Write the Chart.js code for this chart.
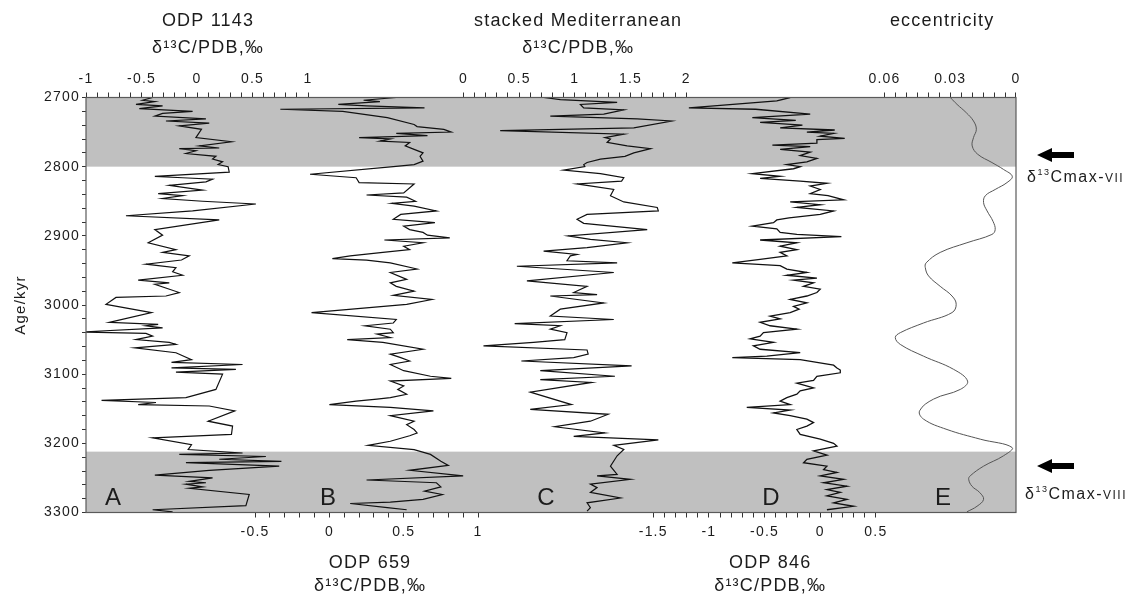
<!DOCTYPE html>
<html>
<head>
<meta charset="utf-8">
<title>δ13C records 2700–3300 kyr</title>
<script src="https://cdn.jsdelivr.net/npm/chart.js@4.4.1/dist/chart.umd.min.js"></script>
<style>
  html, body { margin: 0; padding: 0; background: #fff; }
  #wrap { width: 1136px; height: 596px; }
</style>
</head>
<body>
<div id="wrap"><canvas id="c" width="1136" height="596"></canvas></div>
<script>
// ── Data (ages in kyr) ─────────────────────────────────────────────────────
// A: ODP 1143 δ13C
const agesA = [2700,2704,2706,2710,2712,2716,2720,2723,2727,2731,2734,2737,2741,2746,2758,2764,2770,2773,2774,2777,
  2781,2785,2789,2793,2797,2800,2808,2814,2816,2818,2822,2827,2834,2839,2842,2846,2850,2854,2864,2871,
  2877,2891,2899,2910,2920,2924,2929,2935,2941,2946,2952,2957,2964,2968,2970,2982,2987,2989,2999,3011,
  3025,3028,3030,3033,3039,3041,3045,3050,3054,3057,3062,3069,3079,3083,3086,3091,3093,3097,3100,3122,
  3134,3138,3141,3144,3146,3153,3168,3175,3187,3192,3202,3209,3214,3216,3219,3223,3226,3228,3233,3239,
  3246,3250,3255,3257,3259,3263,3265,3274,3290,3296,3299];
const valsA = [-0.40,-0.49,-0.38,-0.55,-0.31,-0.52,-0.04,-0.31,-0.38,0.08,-0.28,0.11,-0.16,0.04,-0.01,0.31,0.02,0.20,-0.16,-0.01,
  -0.10,0.17,0.14,0.23,0.19,0.28,0.29,-0.38,-0.13,0.14,0.08,-0.25,0.05,-0.35,-0.13,-0.31,0.05,0.53,-0.04,-0.64,
  0.20,-0.38,-0.31,-0.44,-0.19,-0.31,-0.07,-0.14,-0.46,-0.19,-0.22,-0.13,-0.53,-0.25,-0.38,-0.16,-0.28,-0.73,-0.82,-0.41,
  -0.79,-0.35,-0.46,-0.31,-1.04,-0.46,-0.40,-0.55,-0.25,-0.19,-0.56,-0.19,-0.05,-0.23,0.41,-0.23,0.35,-0.19,0.23,0.17,
  -0.10,-0.86,-0.37,-0.53,0.11,0.34,0.10,0.32,0.31,-0.40,-0.05,-0.08,0.41,-0.16,0.62,0.20,0.76,-0.10,0.74,0.11,
  -0.38,0.14,-0.07,0.08,-0.10,0.05,-0.07,0.47,0.44,-0.40,-0.22];

// B: ODP 659 δ13C
const agesB = [2700,2704,2706,2710,2712,2715,2717,2720,2729,2739,2742,2746,2750,2752,2755,2758,2760,2763,2765,2770,
  2775,2780,2785,2792,2797,2800,2811,2816,2823,2825,2838,2841,2844,2850,2853,2857,2864,2869,2876,2881,
  2886,2891,2895,2899,2903,2906,2910,2915,2920,2924,2929,2933,2935,2939,2948,2953,2963,2968,2973,2980,
  2986,2992,2999,3011,3021,3026,3030,3035,3040,3042,3047,3050,3054,3064,3071,3076,3081,3086,3095,3103,
  3106,3110,3117,3122,3129,3134,3136,3139,3144,3148,3153,3160,3168,3173,3180,3185,3189,3197,3203,3209,
  3216,3226,3232,3239,3247,3253,3257,3263,3269,3274,3281,3285,3287,3293,3296];
const valsB = [0.45,0.23,0.34,0.06,0.25,0.64,-0.33,0.09,0.39,0.57,0.59,0.77,0.82,0.45,0.66,0.20,0.41,0.34,0.54,0.51,
  0.57,0.63,0.61,0.63,0.57,0.43,-0.13,0.18,0.20,0.57,0.50,0.25,0.52,0.58,0.42,0.57,0.72,0.48,0.43,0.71,
  0.50,0.54,0.63,0.66,0.81,0.37,0.63,0.50,0.54,0.36,0.14,0.02,0.25,0.41,0.59,0.41,0.52,0.41,0.45,0.57,
  0.43,0.69,0.52,-0.12,0.45,0.43,0.24,0.41,0.43,0.32,0.41,0.12,0.36,0.63,0.41,0.48,0.54,0.41,0.50,0.68,
  0.82,0.41,0.50,0.46,0.52,0.41,0.32,0.18,0.00,0.41,0.70,0.41,0.57,0.52,0.57,0.59,0.54,0.41,0.26,0.57,
  0.68,0.75,0.80,0.54,0.90,0.25,0.72,0.75,0.64,0.76,0.63,0.41,0.14,0.39,0.52];

// C: stacked Mediterranean δ13C
const agesC = [2700,2703,2707,2710,2715,2718,2724,2727,2731,2734,2744,2748,2753,2758,2760,2765,2770,2774,2780,2785,
  2789,2794,2797,2800,2805,2810,2816,2821,2825,2833,2842,2851,2859,2864,2869,2876,2882,2891,2900,2905,
  2910,2917,2922,2927,2929,2936,2939,2944,2953,2965,2973,2982,2985,2987,2997,3006,3016,3021,3027,3030,
  3035,3040,3050,3054,3059,3065,3071,3076,3081,3088,3095,3103,3108,3112,3126,3144,3151,3158,3168,3176,
  3185,3190,3195,3203,3209,3218,3233,3245,3247,3252,3259,3264,3271,3279,3286,3293,3298];
const valsC = [0.72,0.87,1.38,1.05,1.08,1.44,1.26,0.78,1.56,1.87,1.53,0.33,1.44,1.27,1.32,1.29,1.47,1.68,1.53,1.45,
  1.23,1.11,1.08,1.09,0.90,1.23,1.44,1.42,1.02,1.35,1.32,1.44,1.74,1.75,1.11,1.02,1.08,1.65,0.94,1.14,
  1.47,1.11,0.72,1.02,0.96,0.93,1.38,0.48,1.35,0.57,1.11,0.99,1.20,0.78,1.26,0.87,0.78,1.35,0.46,0.87,
  0.78,0.93,0.91,0.63,0.18,1.11,1.12,0.99,0.52,1.51,0.69,1.36,0.69,1.15,0.60,0.97,0.60,1.30,1.14,0.82,
  1.27,0.99,1.75,1.35,1.44,1.38,1.32,1.38,1.20,1.50,1.14,1.20,1.14,1.41,1.11,1.14,1.11];

// D: ODP 846 δ13C
const agesD = [2700,2705,2715,2717,2724,2729,2733,2736,2740,2744,2747,2750,2752,2756,2759,2761,2766,2769,2771,2775,
  2779,2784,2788,2793,2797,2800,2803,2810,2814,2817,2821,2824,2828,2833,2839,2842,2848,2851,2855,2859,
  2864,2869,2874,2877,2881,2886,2890,2895,2898,2901,2906,2910,2915,2920,2924,2929,2934,2939,2943,2948,
  2953,2957,2961,2964,2968,2973,2977,2982,2987,2992,2997,3002,3006,3011,3016,3020,3025,3030,3035,3040,
  3045,3049,3054,3059,3064,3069,3074,3076,3079,3083,3087,3091,3094,3098,3103,3109,3113,3120,3124,3129,
  3134,3139,3144,3148,3152,3156,3160,3165,3170,3175,3180,3187,3194,3200,3204,3211,3217,3223,3228,3233,
  3238,3242,3247,3252,3257,3262,3267,3271,3276,3281,3286,3291,3296];
const valsD = [-0.27,-0.39,-1.18,-0.58,-0.09,-0.61,-0.22,-0.54,-0.16,-0.36,0.13,-0.12,0.12,0.00,0.22,-0.03,-0.03,-0.43,-0.09,-0.36,
  -0.09,-0.18,-0.03,-0.12,-0.30,-0.18,-0.24,-0.61,-0.36,-0.54,-0.18,0.06,-0.09,0.00,-0.09,0.07,0.21,-0.27,0.00,-0.21,
  0.12,0.00,-0.28,-0.39,-0.42,-0.61,-0.39,-0.36,-0.21,0.19,-0.54,-0.21,-0.36,-0.21,-0.36,-0.30,-0.54,-0.79,-0.36,-0.30,
  -0.12,-0.30,-0.03,-0.24,-0.06,-0.15,0.00,-0.03,-0.12,-0.27,-0.12,-0.24,-0.19,-0.27,-0.45,-0.36,-0.54,-0.45,-0.21,-0.51,
  -0.54,-0.63,-0.42,-0.60,-0.54,-0.18,-0.48,-0.79,-0.18,-0.03,0.12,0.15,0.18,0.18,-0.03,-0.06,-0.21,-0.06,-0.18,-0.21,
  -0.30,-0.36,-0.27,-0.66,-0.27,-0.42,-0.27,-0.12,-0.06,-0.12,-0.21,-0.18,0.00,0.12,0.15,-0.06,0.06,-0.12,-0.15,0.06,
  0.03,0.15,0.00,0.21,0.03,0.24,0.06,0.18,0.06,0.24,0.12,0.30,0.06];

// E: eccentricity
const agesE = [2700,2710,2722,2734,2746,2758,2770,2782,2794,2804,2814,2823,2833,2842,2852,2864,2879,2891,2898,2910,
  2924,2939,2946,2958,2973,2987,2999,3011,3026,3040,3047,3057,3074,3093,3110,3122,3136,3153,3165,3180,
  3194,3206,3218,3233,3247,3252,3262,3271,3281,3291,3299];
const valsE = [0.0300,0.0269,0.0227,0.0194,0.0181,0.0194,0.0200,0.0175,0.0110,0.0057,0.0017,0.0041,0.0095,0.0140,0.0148,0.0132,0.0105,0.0095,0.0110,0.0224,
  0.0346,0.0410,0.0414,0.0399,0.0346,0.0292,0.0273,0.0292,0.0422,0.0528,0.0551,0.0528,0.0422,0.0285,0.0221,0.0254,0.0376,0.0440,0.0422,0.0315,
  0.0163,0.0018,0.0057,0.0148,0.0209,0.0216,0.0201,0.0166,0.0148,0.0178,0.0224];

// shaded intervals (kyr)
const bands = [[2700, 2800], [3212, 3300]];

// tick labels per axis
const labelsA = [-1, -0.5, 0, 0.5, 1];
const labelsB = [-0.5, 0, 0.5, 1];
const labelsC = [0, 0.5, 1, 1.5, 2];
const labelsD = [-1.5, -1, -0.5, 0, 0.5];
const labelsE = [0.06, 0.03, 0];
const labelsAge = [2700, 2800, 2900, 3000, 3100, 3200, 3300];

// ── Look ──────────────────────────────────────────────────────────────────────
const FONT = '"Liberation Sans", Arial, Helvetica, sans-serif';
const TXT = '#1c1c1c';
const TOP_H = 97.5;    // height of the top axis strip
const BOT_H = 83.5;    // height of the bottom axis strip
Chart.defaults.font.family = FONT;
Chart.defaults.color = TXT;

// minor tick marks between two values
function marks(from, to, step) {
  const out = [];
  const n = Math.round((to - from) / step);
  for (let i = 0; i <= n; i++) out.push(Math.round((from + i * step) * 1e6) / 1e6);
  return out;
}

function labelFor(list) {
  return (v) => {
    const hit = list.find(l => Math.abs(l - v) < 1e-7);
    return hit === undefined ? '' : String(hit);
  };
}

// one visible x axis segment (top or bottom strip)
function xAxis(position, weight, min, max, tickFrom, tickTo, step, labels, title, reverse) {
  const top = position === 'top';
  return {
    type: 'linear', axis: 'x', position, stack: position, stackWeight: weight,
    min, max, reverse: !!reverse,
    afterBuildTicks: ax => { ax.ticks = marks(tickFrom, tickTo, step).map(v => ({ value: v })); },
    afterFit: ax => { ax.height = top ? TOP_H : BOT_H; },
    grid: { drawOnChartArea: false, tickLength: 5, color: '#333', lineWidth: 1 },
    border: { display: false },
    ticks: { autoSkip: false, maxRotation: 0, padding: top ? 5 : 6, font: { size: 14 }, color: TXT,
             callback: labelFor(labels) },
    title: { display: true, text: title, color: TXT,
             font: { size: 18, lineHeight: top ? 1.5 : 1.28 },
             padding: top ? { top: 8, bottom: 0 } : { top: 0, bottom: -2 } }
  };
}

// empty filler segment in a strip
function spacer(position, weight) {
  return {
    type: 'linear', axis: 'x', position, stack: position, stackWeight: weight, min: 0, max: 1,
    afterFit: ax => { ax.height = position === 'top' ? TOP_H : BOT_H; },
    grid: { display: false }, border: { display: false }, ticks: { display: false }
  };
}

const TITLE_13C = 'δ¹³C/PDB,‰';

// ── Plugins ─────────────────────────────────────────────────────────────────
const spacing = {
  id: 'spacing',
  beforeLayout: chart => { chart.ctx.letterSpacing = '1.2px'; },
  beforeDraw: chart => { chart.ctx.letterSpacing = '1.2px'; }
};

const shading = {
  id: 'shading',
  beforeDatasetsDraw(chart) {
    const { ctx, chartArea: a, scales: { y } } = chart;
    ctx.save();
    ctx.fillStyle = '#c0c0c0';
    bands.forEach(([a0, a1]) => {
      const p0 = y.getPixelForValue(a0), p1 = y.getPixelForValue(a1);
      ctx.fillRect(a.left, Math.min(p0, p1), a.right - a.left, Math.abs(p1 - p0));
    });
    ctx.restore();
  }
};

function richText(ctx, x, y, parts) {
  let cx = x;
  parts.forEach(([t, size, dy]) => {
    ctx.font = size + 'px ' + FONT;
    ctx.fillText(t, cx, y + dy);
    cx += ctx.measureText(t).width;
  });
}

const frame = {
  id: 'frame',
  afterDatasetsDraw(chart) {
    const { ctx, chartArea: a } = chart;
    ctx.save();
    ctx.strokeStyle = '#5a5a5a';
    ctx.lineWidth = 1.2;
    ctx.strokeRect(a.left, a.top, a.right - a.left, a.bottom - a.top);
    // panel letters
    ctx.fillStyle = TXT;
    ctx.font = '24px ' + FONT;
    ctx.letterSpacing = '0px';
    ctx.textAlign = 'center';
    ctx.textBaseline = 'alphabetic';
    [['A', 113], ['B', 328], ['C', 546], ['D', 771], ['E', 943]].forEach(([t, x]) => ctx.fillText(t, x, 505));
    ctx.restore();
  }
};

const markers = {
  id: 'markers',
  afterDraw(chart) {
    const { ctx } = chart;
    ctx.save();
    ctx.fillStyle = '#000';
    [155, 466].forEach(cy => {
      ctx.beginPath();
      ctx.moveTo(1037, cy);
      ctx.lineTo(1052, cy - 7);
      ctx.lineTo(1052, cy - 3);
      ctx.lineTo(1074, cy - 3);
      ctx.lineTo(1074, cy + 3);
      ctx.lineTo(1052, cy + 3);
      ctx.lineTo(1052, cy + 7);
      ctx.closePath();
      ctx.fill();
    });
    ctx.fillStyle = TXT;
    ctx.textAlign = 'left';
    ctx.textBaseline = 'alphabetic';
    ctx.letterSpacing = '1.5px';
    richText(ctx, 1027, 182, [['δ', 16, 0], ['13', 9, -7], ['Cmax-', 16, 0], ['VII', 12, 0]]);
    richText(ctx, 1025, 499, [['δ', 16, 0], ['13', 9, -7], ['Cmax-', 16, 0], ['VIII', 12, 0]]);
    ctx.restore();
  }
};

// ── Chart ───────────────────────────────────────────────────────────────────
const curve = (ages, vals, axisId, extra) => Object.assign({
  data: ages.map((a, i) => ({ x: vals[i], y: a })),
  xAxisID: axisId, yAxisID: 'y',
  borderColor: '#111', borderWidth: 1.2, pointRadius: 0, tension: 0, fill: false
}, extra || {});

new Chart(document.getElementById('c'), {
  type: 'line',
  data: {
    datasets: [
      curve(agesA, valsA, 'xA'),
      curve(agesB, valsB, 'xB'),
      curve(agesC, valsC, 'xC'),
      curve(agesD, valsD, 'xD', { borderWidth: 1.3 }),
      curve(agesE, valsE, 'xE', { borderColor: '#555', borderWidth: 1, tension: 0.4 })
    ]
  },
  options: {
    responsive: false,
    animation: false,
    devicePixelRatio: 1,
    layout: { padding: { left: 0, top: 0, right: 120, bottom: 0 } },
    plugins: { legend: { display: false }, tooltip: { enabled: false } },
    scales: {
      y: {
        type: 'linear', position: 'left', reverse: true, min: 2700, max: 3300,
        afterBuildTicks: ax => { ax.ticks = marks(2700, 3300, 20).map(v => ({ value: v })); },
        afterFit: ax => { ax.width = 86; },
        grid: { drawOnChartArea: false, tickLength: 4, color: '#333' },
        border: { display: false },
        ticks: { autoSkip: false, padding: 2, font: { size: 14 }, color: TXT, callback: labelFor(labelsAge) },
        title: { display: true, text: 'Age/kyr', color: TXT, font: { size: 15 }, padding: { top: 12, bottom: 0 } }
      },
      // top strip (Chart.js lays top boxes out last-first):
      // eccentricity | gap | stacked Mediterranean | ODP 1143  →  shown left to right reversed
      xE: xAxis('top', 147.7, 0, 0.06744, 0, 0.06, 0.005, labelsE, ['eccentricity'], true),
      gapT: spacer('top', 42),
      xC: xAxis('top', 496, -1.1971, 3.2573, 0, 2, 0.1, labelsC, ['stacked Mediterranean', TITLE_13C]),
      xA: xAxis('top', 244, -1, 1.1982, -1, 1, 0.1, labelsA, ['ODP 1143', TITLE_13C]),
      // bottom strip: gap | ODP 659 | gap | ODP 846 | gap
      gapB1: spacer('bottom', 144),
      xB: xAxis('bottom', 280, -0.6682, 1.2160, -0.5, 1, 0.1, labelsB, ['ODP 659', TITLE_13C]),
      gapB2: spacer('bottom', 130),
      xD: xAxis('bottom', 260, -1.6173, 0.7188, -1.5, 0.5, 0.1, labelsD, ['ODP 846', TITLE_13C]),
      gapB3: spacer('bottom', 115.7)
    }
  },
  plugins: [spacing, shading, frame, markers]
});
</script>
</body>
</html>
